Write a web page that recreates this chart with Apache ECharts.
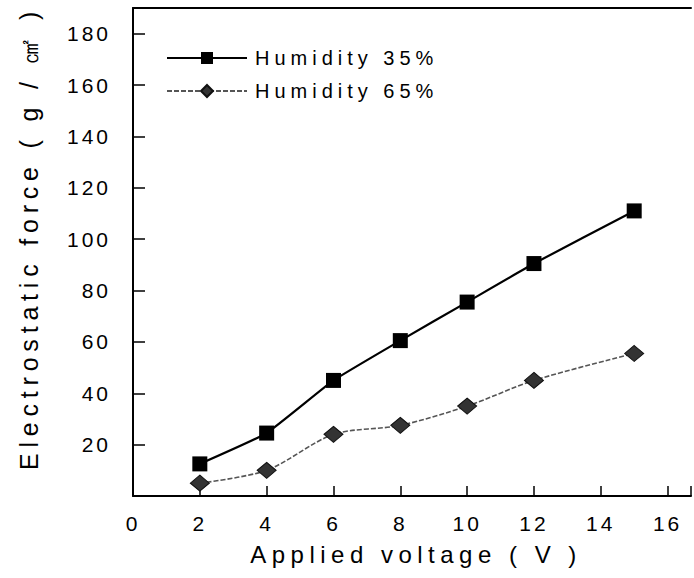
<!DOCTYPE html>
<html>
<head>
<meta charset="utf-8">
<script src="https://cdn.jsdelivr.net/npm/echarts@6/dist/echarts.min.js"></script>
<style>
  html, body { margin: 0; padding: 0; background: #fff; }
  #chart { width: 694px; height: 578px; }
  /* wide tracking on the SVG text, keyed by font size */
  #chart text[style*="21px"] { letter-spacing: 3px; }
  #chart text[style*="20px"] { letter-spacing: 5px; }
  #chart text[style*="24px"] { letter-spacing: 5.5px; }
  #chart text[style*="25px"] { letter-spacing: 5.8px; }
</style>
</head>
<body>
<div id="chart"></div>
<script>
// Applied voltage (V) at each measurement
const voltage = [2, 4, 6, 8, 10, 12, 15];
// Electrostatic force (g/cm²) at two humidity levels
const force35 = [12.5, 24.5, 45, 60.5, 75.5, 90.5, 111];
const force65 = [5, 10, 24, 27.5, 35, 45, 55.5];
const seriesNames = ['Humidity 35%', 'Humidity 65%'];
const xTitle = 'Applied voltage ( V )';
const yTitle = 'Electrostatic force ( g / \u33A0 )';

const FONT = '"Liberation Sans", Arial, sans-serif';

const pairs = (xs, ys) => xs.map((x, i) => [x, ys[i]]);

const chart = echarts.init(document.getElementById('chart'), null, { renderer: 'svg' });

chart.setOption({
  animation: false,
  backgroundColor: '#fff',
  grid: { left: 133, right: 0, top: 8, bottom: 82, containLabel: false },
  legend: {
    orient: 'vertical',
    left: 161,
    top: 43,
    itemWidth: 80,
    itemHeight: 15,
    itemGap: 13,
    data: seriesNames,
    textStyle: { fontFamily: FONT, fontSize: 20, color: '#000', padding: [0, 0, 0, 3] }
  },
  xAxis: [{
    type: 'value',
    min: 0,
    max: 16.7,
    interval: 2,
    splitLine: { show: false },
    axisLine: { lineStyle: { color: '#000', width: 2 } },
    axisTick: { inside: true, length: 10, lineStyle: { color: '#000', width: 1.5 } },
    axisLabel: {
      margin: 17,
      fontFamily: FONT, fontSize: 21, color: '#000',
      formatter: v => (v % 2 === 0 ? String(v) : '')
    },
    name: xTitle,
    nameLocation: 'middle',
    nameGap: 46,
    nameTextStyle: { fontFamily: FONT, fontSize: 24, color: '#000', padding: [0, 0, 0, 8] }
  }, {
    type: 'value',
    position: 'top',
    min: 0,
    max: 16.7,
    splitLine: { show: false },
    axisLine: { lineStyle: { color: '#000', width: 2 } },
    axisTick: { show: false },
    axisLabel: { show: false }
  }],
  yAxis: {
    type: 'value',
    min: 0,
    max: 190,
    interval: 20,
    splitLine: { show: false },
    axisLine: { lineStyle: { color: '#000', width: 2 } },
    axisTick: { inside: true, length: 12, lineStyle: { color: '#000', width: 1.5 } },
    axisLabel: {
      margin: 22,
      fontFamily: FONT, fontSize: 21, color: '#000',
      formatter: v => (v > 0 && v % 20 === 0 ? String(v) : '')
    },
    name: yTitle,
    nameLocation: 'middle',
    nameRotate: 90,
    nameGap: 92,
    nameTextStyle: { fontFamily: FONT, fontSize: 25, color: '#000', padding: [0, 0, 0, 28] }
  },
  series: [{
    name: seriesNames[0],
    type: 'line',
    xAxisIndex: 0,
    data: pairs(voltage, force35),
    symbol: 'rect',
    symbolSize: 15,
    smooth: 0.12,
    itemStyle: { color: '#000' },
    lineStyle: { color: '#000', width: 2.2 }
  }, {
    name: seriesNames[1],
    type: 'line',
    xAxisIndex: 0,
    data: pairs(voltage, force65),
    symbol: 'diamond',
    symbolSize: [19, 16],
    smooth: 0.3,
    itemStyle: { color: '#333', borderColor: '#111', borderWidth: 1 },
    lineStyle: { color: '#555', width: 1.6, type: [5, 2] }
  }]
});
</script>
</body>
</html>
